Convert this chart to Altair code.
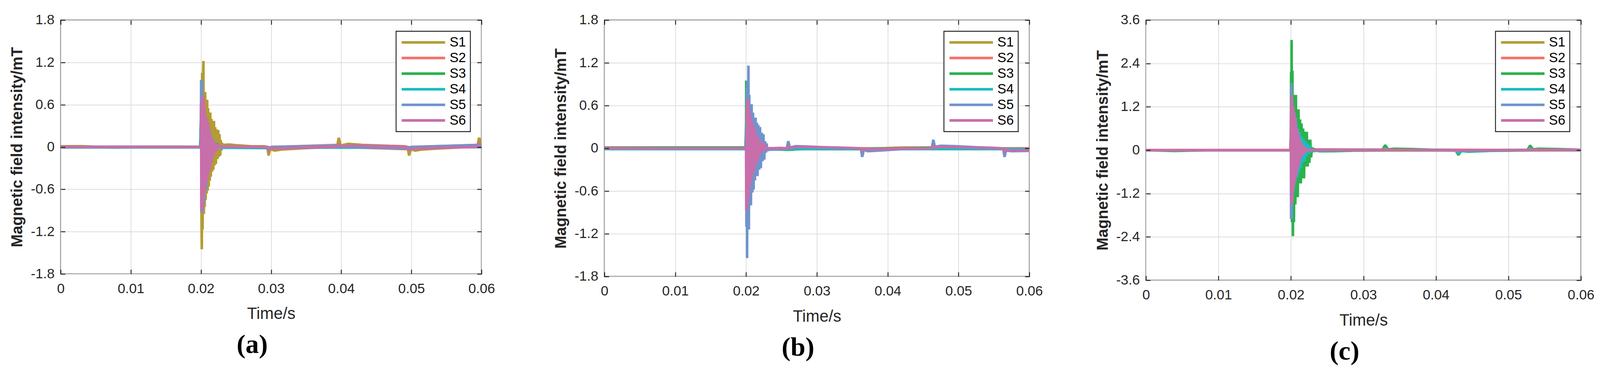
import altair as alt
import pandas as pd

SERIES = ["S1", "S2", "S3", "S4", "S5", "S6"]
COLORS = ["#B39C33", "#F4736C", "#2BB24C", "#1CBCC1", "#7094CC", "#C86EAA"]
X_TICKS = [0, 0.01, 0.02, 0.03, 0.04, 0.05, 0.06]
Y_TICKS_AB = [-1.8, -1.2, -0.6, 0, 0.6, 1.2, 1.8]
Y_TICKS_C = [-3.6, -2.4, -1.2, 0, 1.2, 2.4, 3.6]
PANEL_LABELS = ["(a)", "(b)", "(c)"]
X_TITLE = "Time/s"
Y_TITLE = "Magnetic field intensity/mT"

# ---------------- panel (a) ----------------
A_S1 = [(0.0, 0.01), (0.003, 0.012), (0.006, 0.0), (0.012, 0.005), (0.0199, 0.0),
        (0.02000, 0.02), (0.02004, 0.15), (0.02008, -1.06), (0.02012, -1.45), (0.02017, 1.05),
        (0.02023, -1.17), (0.02029, 0.95), (0.02035, 1.22), (0.02041, -0.95), (0.02047, 0.78),
        (0.02053, -0.85), (0.02060, 0.78), (0.02067, -0.75), (0.02074, 0.67), (0.02081, -0.66),
        (0.02088, 0.67), (0.02095, -0.62), (0.02102, 0.55), (0.02111, -0.56), (0.02118, 0.49),
        (0.02125, -0.48), (0.02132, 0.49), (0.02140, -0.42), (0.02148, 0.40), (0.02159, -0.35),
        (0.02167, 0.37), (0.02176, -0.32), (0.02185, 0.37), (0.02194, -0.26), (0.02203, 0.28),
        (0.02212, -0.24), (0.02224, 0.25), (0.02236, -0.17), (0.02246, 0.24), (0.02256, -0.14),
        (0.02265, 0.18), (0.02274, -0.12), (0.02282, 0.10), (0.02291, -0.05), (0.02300, 0.06),
        (0.02310, -0.01), (0.02326, 0.03), (0.0240, 0.035), (0.0250, 0.025), (0.0270, 0.012),
        (0.0290, 0.01), (0.02945, 0.0), (0.02965, -0.12), (0.02985, -0.03), (0.0305, -0.05),
        (0.0315, -0.035), (0.0340, -0.02), (0.0380, 0.0), (0.0394, 0.0), (0.03965, 0.13),
        (0.0399, 0.02), (0.0410, 0.045), (0.0430, 0.03), (0.0470, 0.015), (0.0490, 0.01),
        (0.04945, 0.0), (0.04968, -0.12), (0.0499, -0.03), (0.0505, -0.05), (0.0515, -0.035),
        (0.0540, -0.02), (0.0580, 0.0), (0.0594, 0.0), (0.05965, 0.13), (0.0600, 0.03)]
A_S2 = [(0.0, 0.0), (0.0199, 0.0), (0.02003, 0.4), (0.0201, -0.5), (0.0202, 0.45), (0.0203, -0.4),
        (0.0205, 0.3), (0.0207, -0.3), (0.0210, 0.2), (0.0213, -0.15), (0.0217, 0.08), (0.0222, -0.04),
        (0.0228, 0.0), (0.0296, 0.0), (0.02965, -0.03), (0.0300, 0.0), (0.03965, 0.03), (0.0401, 0.0),
        (0.04968, -0.03), (0.0500, 0.0), (0.05965, 0.03), (0.0600, 0.0)]
A_S3 = [(0.0, 0.0), (0.008, -0.005), (0.015, 0.004), (0.0199, 0.0), (0.02003, 0.6), (0.02008, -0.7),
        (0.02013, 0.95), (0.0202, -0.6), (0.0203, 0.5), (0.0205, -0.4), (0.0207, 0.3), (0.0210, -0.25),
        (0.0213, 0.15), (0.0217, -0.1), (0.0222, 0.05), (0.0228, -0.01), (0.0240, -0.01), (0.0300, -0.015),
        (0.0400, -0.005), (0.0500, -0.01), (0.0600, 0.0)]
A_S4 = [(0.0, -0.005), (0.0199, -0.005), (0.02003, 0.5), (0.0201, -0.6), (0.0202, 0.5), (0.0204, -0.45),
        (0.0206, 0.35), (0.0209, -0.3), (0.0212, 0.2), (0.0216, -0.1), (0.0221, 0.05), (0.0227, -0.01),
        (0.0300, -0.01), (0.0450, -0.005), (0.0600, 0.0)]
A_S5 = [(0.0, 0.0), (0.008, 0.005), (0.0199, 0.0),
        (0.02000, 0.0), (0.02003, 0.95), (0.02008, -0.93), (0.02013, 0.95), (0.02018, -0.92),
        (0.02024, 0.60), (0.02030, -0.85), (0.02036, 0.55), (0.02042, -0.80), (0.02050, 0.45),
        (0.02058, -0.62), (0.02066, 0.40), (0.02074, -0.60), (0.02082, 0.35), (0.02090, -0.45),
        (0.02100, 0.30), (0.02110, -0.35), (0.02120, 0.26), (0.02130, -0.25), (0.02140, 0.18),
        (0.02152, -0.18), (0.02165, 0.12), (0.02178, -0.10), (0.02192, 0.07), (0.02206, -0.05),
        (0.02220, 0.03), (0.02240, 0.0), (0.0296, 0.0), (0.02965, -0.02), (0.0300, 0.0),
        (0.03965, 0.02), (0.0400, 0.005), (0.04968, -0.02), (0.0500, 0.0), (0.05965, 0.03), (0.0600, 0.01)]
A_S6 = [(0.0, 0.0), (0.0199, 0.0),
        (0.02000, 0.0), (0.02002, 0.63), (0.02006, -0.90), (0.02010, 0.55), (0.02014, -0.90),
        (0.02020, 0.72), (0.02026, -0.88), (0.02032, 0.72), (0.02038, -0.70), (0.02044, 0.65),
        (0.02050, -0.65), (0.02057, 0.50), (0.02064, -0.55), (0.02071, 0.42), (0.02078, -0.48),
        (0.02086, 0.40), (0.02094, -0.45), (0.02102, 0.35), (0.02110, -0.36), (0.02118, 0.25),
        (0.02126, -0.32), (0.02135, 0.18), (0.02145, -0.22), (0.02155, 0.12), (0.02166, -0.15),
        (0.02177, 0.09), (0.02190, -0.09), (0.02204, 0.06), (0.02218, -0.05), (0.02235, 0.03),
        (0.02260, 0.01), (0.0294, 0.0), (0.02965, -0.05), (0.0300, -0.01), (0.0310, -0.02),
        (0.0380, 0.0), (0.0394, 0.0), (0.03965, 0.04), (0.0400, 0.01), (0.0410, 0.02), (0.0480, 0.01),
        (0.04945, 0.0), (0.04968, -0.04), (0.0505, -0.02), (0.0580, 0.0), (0.0594, 0.0),
        (0.05965, 0.05), (0.0600, 0.02)]

# ---------------- panel (b) ----------------
B_S1 = [(0.0, 0.01), (0.0199, 0.01), (0.02003, 0.3), (0.0201, -0.3), (0.0203, 0.25), (0.0206, -0.2),
        (0.0210, 0.12), (0.0215, -0.06), (0.0222, 0.0), (0.0300, -0.01), (0.0360, -0.01), (0.0420, 0.01),
        (0.0480, 0.01), (0.0520, -0.005), (0.0600, -0.01)]
B_S2 = [(0.0, 0.01), (0.0199, 0.01), (0.02003, 0.2), (0.0201, -0.25), (0.0203, 0.2), (0.0206, -0.15),
        (0.0210, 0.08), (0.0216, -0.03), (0.0222, 0.0), (0.0600, 0.0)]
B_S3 = [(0.0, 0.005), (0.0100, 0.01), (0.0199, 0.01), (0.02000, 0.0), (0.02002, 0.95), (0.02006, -0.5),
        (0.02010, 0.95), (0.02016, -0.6), (0.02024, 0.6), (0.02034, -0.7), (0.02044, -0.81), (0.02054, 0.5),
        (0.02066, -0.5), (0.02080, 0.4), (0.02095, -0.35), (0.02110, 0.3), (0.02130, -0.25), (0.02150, 0.2),
        (0.02170, -0.15), (0.02190, 0.1), (0.02210, -0.08), (0.02240, 0.03), (0.02270, -0.01),
        (0.0260, -0.02), (0.0300, 0.0), (0.0365, -0.01), (0.0400, -0.005), (0.0465, 0.01),
        (0.0520, -0.005), (0.0600, -0.01)]
B_S4 = [(0.0, -0.01), (0.0199, -0.01), (0.02003, 0.4), (0.0201, -0.45), (0.0203, 0.4), (0.0206, -0.3),
        (0.0210, 0.2), (0.0215, -0.12), (0.0222, 0.03), (0.0228, -0.01), (0.0300, -0.01), (0.0600, -0.01)]
B_S5 = [(0.0, 0.0), (0.0100, 0.0), (0.0199, 0.0),
        (0.02000, 0.0), (0.02002, 0.26), (0.02005, -1.10), (0.02010, 0.85), (0.02014, -1.54),
        (0.02020, 0.95), (0.02026, -1.14), (0.02033, 1.16), (0.02039, -1.14), (0.02045, 0.75),
        (0.02052, -0.80), (0.02060, 0.62), (0.02068, -0.80), (0.02078, 0.62), (0.02088, -0.62),
        (0.02098, 0.50), (0.02106, -0.58), (0.02116, 0.43), (0.02125, -0.45), (0.02134, 0.43),
        (0.02143, -0.39), (0.02152, 0.36), (0.02161, -0.39), (0.02172, 0.33), (0.02184, -0.30),
        (0.02196, 0.30), (0.02208, -0.28), (0.02220, 0.22), (0.02232, -0.18), (0.02244, 0.20),
        (0.02256, -0.16), (0.02268, 0.10), (0.02280, -0.06), (0.02290, 0.07), (0.02300, -0.03),
        (0.02315, -0.02), (0.0245, -0.015), (0.0255, -0.005), (0.02574, 0.0), (0.02596, 0.10),
        (0.02618, 0.01), (0.0270, 0.03), (0.0285, 0.025), (0.0310, 0.015), (0.0340, 0.005),
        (0.0362, 0.0), (0.0364, -0.12), (0.03662, -0.02), (0.0372, -0.04), (0.0390, -0.03),
        (0.0420, -0.01), (0.04622, 0.0), (0.04644, 0.12), (0.04666, 0.02), (0.0475, 0.035),
        (0.0495, 0.03), (0.0525, 0.015), (0.0563, 0.0), (0.0565, -0.12), (0.0567, -0.03),
        (0.0575, -0.04), (0.0600, -0.035)]
B_S6 = [(0.0, 0.0), (0.0199, 0.0),
        (0.02000, 0.0), (0.02003, -0.87), (0.02008, 0.55), (0.02013, -0.87), (0.02018, 0.68),
        (0.02024, -0.75), (0.02030, 0.68), (0.02036, -0.66), (0.02043, 0.55), (0.02050, -0.55),
        (0.02057, 0.47), (0.02064, -0.47), (0.02072, 0.40), (0.02080, -0.42), (0.02088, 0.36),
        (0.02097, -0.35), (0.02106, 0.30), (0.02116, -0.30), (0.02126, 0.26), (0.02136, -0.22),
        (0.02147, 0.18), (0.02158, -0.18), (0.02170, 0.15), (0.02183, -0.12), (0.02196, 0.10),
        (0.02210, -0.07), (0.02222, 0.09), (0.02236, -0.05), (0.02250, 0.05), (0.02266, 0.045),
        (0.02280, 0.0), (0.0250, 0.005), (0.02574, 0.0), (0.02596, 0.04), (0.02618, 0.0),
        (0.0270, 0.02), (0.0330, 0.01), (0.0362, 0.0), (0.0364, -0.05), (0.03662, -0.01),
        (0.0380, -0.02), (0.0420, 0.0), (0.04622, 0.0), (0.04644, 0.05), (0.04666, 0.01),
        (0.0480, 0.02), (0.0520, 0.01), (0.0563, 0.0), (0.0565, -0.06), (0.0567, -0.02),
        (0.0580, -0.03), (0.0600, -0.03)]

# ---------------- panel (c) ----------------
C_S1 = [(0.0, 0.0), (0.0199, 0.0), (0.02003, 0.5), (0.0201, -0.6), (0.0203, 0.45), (0.0206, -0.35),
        (0.0210, 0.2), (0.0216, -0.1), (0.0224, 0.02), (0.0300, -0.01), (0.0400, -0.005),
        (0.0500, -0.01), (0.0600, 0.0)]
C_S2 = [(0.0, 0.005), (0.0199, 0.005), (0.02003, 0.7), (0.0201, -0.8), (0.0203, 0.6), (0.0206, -0.45),
        (0.0210, 0.25), (0.0216, -0.12), (0.0224, 0.02), (0.0600, 0.0)]
C_S3 = [(0.0, 0.0), (0.0040, -0.02), (0.0065, -0.01), (0.0100, 0.0), (0.0199, 0.0),
        (0.02000, 0.0), (0.02002, 2.16), (0.02006, -1.2), (0.02009, 3.05), (0.02014, -1.99),
        (0.02020, 2.2), (0.02027, -2.38), (0.02034, 1.5), (0.02041, -1.99), (0.02050, 1.53),
        (0.02060, -1.5), (0.02068, 1.53), (0.02076, -1.3), (0.02085, 1.13), (0.02094, -1.3),
        (0.02104, 1.13), (0.02114, -0.92), (0.02125, 0.85), (0.02136, -0.92), (0.02146, 0.74),
        (0.02157, -0.78), (0.02168, 0.60), (0.02180, -0.78), (0.02193, 0.51), (0.02206, -0.45),
        (0.02218, 0.51), (0.02230, -0.45), (0.02242, 0.29), (0.02254, -0.35), (0.02266, 0.29),
        (0.02278, -0.20), (0.02290, 0.08), (0.02302, -0.05), (0.02315, 0.05), (0.02330, 0.0),
        (0.0240, -0.03), (0.0260, -0.025), (0.0290, -0.01), (0.0326, 0.0), (0.0330, 0.14),
        (0.0334, 0.02), (0.0342, 0.04), (0.0370, 0.03), (0.0395, 0.01), (0.0427, 0.0),
        (0.0431, -0.13), (0.0435, -0.02), (0.0445, -0.04), (0.0470, -0.02), (0.0500, -0.01),
        (0.0526, 0.0), (0.0530, 0.13), (0.0534, 0.02), (0.0542, 0.04), (0.0570, 0.03), (0.0600, 0.01)]
C_S4 = [(0.0, 0.0), (0.0199, 0.0),
        (0.02000, 0.0), (0.02003, 1.3), (0.02008, -1.3), (0.02015, 1.2), (0.02023, -1.2),
        (0.02032, 1.0), (0.02042, -1.0), (0.02053, 0.85), (0.02064, -0.85), (0.02075, 0.75),
        (0.02086, -0.75), (0.02097, 0.60), (0.02108, -0.64), (0.02120, 0.50), (0.02132, -0.50),
        (0.02145, 0.38), (0.02158, -0.35), (0.02172, 0.30), (0.02186, -0.30), (0.02200, 0.25),
        (0.02214, -0.16), (0.02228, 0.18), (0.02242, -0.10), (0.02256, 0.14), (0.02270, -0.06),
        (0.02285, 0.03), (0.02300, 0.0), (0.0232, -0.02), (0.0300, 0.0), (0.0326, 0.0),
        (0.0330, 0.05), (0.0334, 0.01), (0.0427, 0.0), (0.0431, -0.10), (0.0435, -0.02),
        (0.0450, -0.03), (0.0500, 0.0), (0.0526, 0.0), (0.0530, 0.05), (0.0534, 0.01), (0.0600, 0.0)]
C_S5 = [(0.0, 0.0), (0.0199, 0.0),
        (0.02000, 0.0), (0.02002, -1.9), (0.02006, 1.86), (0.02010, -1.9), (0.02015, 1.5),
        (0.02021, -1.4), (0.02028, 1.2), (0.02036, -1.1), (0.02045, 1.06), (0.02055, -0.9),
        (0.02065, 0.9), (0.02075, -0.74), (0.02085, 0.6), (0.02096, -0.5), (0.02108, 0.4),
        (0.02120, -0.3), (0.02135, 0.2), (0.02150, -0.15), (0.02170, 0.08), (0.02190, -0.04),
        (0.02220, 0.0), (0.0330, 0.01), (0.0431, -0.01), (0.0530, 0.01), (0.0600, 0.0)]
C_S6 = [(0.0, 0.0), (0.0199, 0.0),
        (0.02000, 0.0), (0.02002, 1.2), (0.02005, -1.51), (0.02009, 1.53), (0.02014, -1.45),
        (0.02020, 1.35), (0.02027, -1.2), (0.02034, 1.19), (0.02041, -1.0), (0.02049, 1.0),
        (0.02057, -0.85), (0.02066, 0.8), (0.02075, -0.7), (0.02084, 0.6), (0.02093, -0.53),
        (0.02103, 0.45), (0.02113, -0.4), (0.02124, 0.3), (0.02135, -0.22), (0.02147, 0.2),
        (0.02160, -0.15), (0.02174, 0.12), (0.02190, -0.08), (0.02208, 0.06), (0.02228, -0.03),
        (0.02250, 0.02), (0.02280, 0.0), (0.0326, 0.0), (0.0330, 0.04), (0.0334, 0.01),
        (0.0427, 0.0), (0.0431, -0.03), (0.0435, 0.0), (0.0526, 0.0), (0.0530, 0.04),
        (0.0534, 0.01), (0.0600, 0.01)]

FONT = "Liberation Sans"
SERIF = "Liberation Serif"
AX = "#262626"
X_LABEL_EXPR = "datum.value == 0 ? '0' : format(datum.value, '.2f')"
Y_LABEL_EXPR = "datum.value == 0 ? '0' : (datum.value < 0 ? '-' : '') + format(abs(datum.value), '.1f')"


def build_frame(series_lists):
    rows = []
    for name, pts in zip(SERIES, series_lists):
        for t, v in pts:
            rows.append({"t": t, "v": v, "series": name})
    return pd.DataFrame(rows)


def x_enc(axis):
    return alt.X("t:Q", scale=alt.Scale(domain=[0, 0.06], nice=False, zero=False), axis=axis)


def y_enc(ymax, axis):
    return alt.Y("v:Q", scale=alt.Scale(domain=[-ymax, ymax], nice=False, zero=False), axis=axis)


def tick_axis(orient, offset, values):
    return alt.Axis(orient=orient, offset=offset, values=values, labels=False, domain=False,
                    grid=False, ticks=True, tickSize=12, tickWidth=2.5, tickColor=AX,
                    title=None, zindex=1)


def panel(df, yvals, ymax, w, h, label):
    xa = alt.Axis(values=X_TICKS, labelExpr=X_LABEL_EXPR, labelFont=FONT, labelFontSize=37,
                  labelColor=AX, labelPadding=22, labelFlush=False, labelOverlap=False,
                  ticks=False, domain=False, grid=True, gridColor="#DCDCDC", gridWidth=2,
                  title=X_TITLE, titleFont=FONT, titleFontSize=44, titleFontWeight="normal",
                  titleColor=AX, titlePadding=28)
    ya = alt.Axis(values=yvals, labelExpr=Y_LABEL_EXPR, labelFont=FONT, labelFontSize=37,
                  labelColor=AX, labelPadding=17, labelFlush=False, labelOverlap=False,
                  ticks=False, domain=False, grid=True, gridColor="#DCDCDC", gridWidth=2,
                  title=Y_TITLE, titleFont=FONT, titleFontSize=42, titleFontWeight="bold",
                  titleColor=AX, titlePadding=14)
    color = alt.Color("series:N", scale=alt.Scale(domain=SERIES, range=COLORS),
                      legend=alt.Legend(title=None, orient="top-right", offset=30,
                                        symbolType="stroke", symbolSize=13700,
                                        symbolStrokeWidth=7, symbolOpacity=1,
                                        clipHeight=38, rowPadding=4, labelFont=FONT,
                                        labelFontSize=36, labelColor="black", labelOffset=8,
                                        padding=11, strokeColor=AX, fillColor="white"))
    lines = alt.Chart(df).mark_line(strokeWidth=7, strokeJoin="bevel", clip=True).encode(
        x=x_enc(xa), y=y_enc(ymax, ya), color=color)
    t1 = alt.Chart(df).mark_point(opacity=0).encode(
        x=x_enc(tick_axis("top", -h, X_TICKS)), y=y_enc(ymax, tick_axis("right", -w, yvals)))
    t2 = alt.Chart(df).mark_point(opacity=0).encode(
        x=x_enc(tick_axis("bottom", -h, X_TICKS)), y=y_enc(ymax, tick_axis("left", -w, yvals)))
    return alt.layer(lines, t1, t2).resolve_axis(x="independent", y="independent").properties(
        width=w, height=h,
        title=alt.TitleParams(text=label, orient="bottom", anchor="middle", frame="bounds",
                              font=SERIF, fontSize=72, fontWeight="bold", color="black",
                              offset=26))


dfa = build_frame([A_S1, A_S2, A_S3, A_S4, A_S5, A_S6])
dfb = build_frame([B_S1, B_S2, B_S3, B_S4, B_S5, B_S6])
dfc = build_frame([C_S1, C_S2, C_S3, C_S4, C_S5, C_S6])

pa = panel(dfa, Y_TICKS_AB, 1.8, 1133, 683, PANEL_LABELS[0])
pb = panel(dfb, Y_TICKS_AB, 1.8, 1144, 690, PANEL_LABELS[1])
pc = panel(dfc, Y_TICKS_C, 3.6, 1171, 700, PANEL_LABELS[2])

left_pair = alt.hconcat(pa, pb, spacing=153).resolve_scale(color="independent").resolve_legend(color="independent")
chart = alt.hconcat(left_pair, pc, spacing=136).resolve_scale(color="independent").resolve_legend(
    color="independent").properties(
    padding={"left": 15, "top": 0, "right": 5, "bottom": 5}
).configure_view(stroke=AX, strokeWidth=2.5).configure_legend(strokeWidth=2.5)

chart.save("out.html", embed_options={"renderer": "svg", "actions": False})
